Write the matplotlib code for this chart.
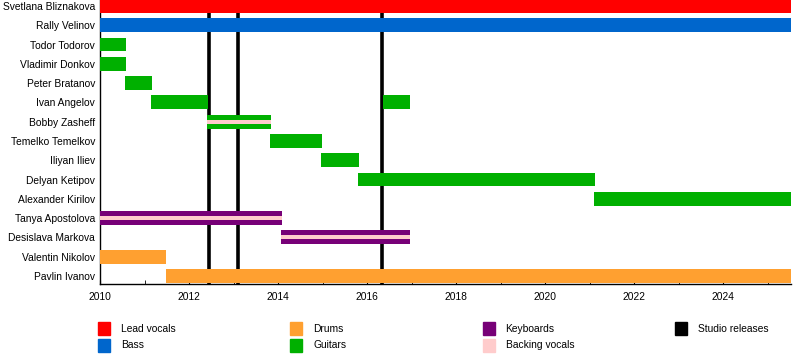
import matplotlib
matplotlib.use("Agg")
import matplotlib.pyplot as plt
from matplotlib.patches import Rectangle

plt.rcParams['font.family'] = ['Liberation Sans', 'DejaVu Sans']

end = 2025.53

members = ["Svetlana Bliznakova", "Rally Velinov", "Todor Todorov", "Vladimir Donkov",
           "Peter Bratanov", "Ivan Angelov", "Bobby Zasheff", "Temelko Temelkov",
           "Iliyan Iliev", "Delyan Ketipov", "Alexander Kirilov", "Tanya Apostolova",
           "Desislava Markova", "Valentin Nikolov", "Pavlin Ivanov"]

# (member, start, end, role, secondary role)
periods = [
    ("Svetlana Bliznakova", 2010.0, end, "Lead vocals", None),
    ("Rally Velinov", 2010.0, end, "Bass", None),
    ("Todor Todorov", 2010.0, 2010.59, "Guitars", None),
    ("Vladimir Donkov", 2010.0, 2010.59, "Guitars", None),
    ("Peter Bratanov", 2010.57, 2011.17, "Guitars", None),
    ("Ivan Angelov", 2011.15, 2012.42, "Guitars", None),
    ("Ivan Angelov", 2016.36, 2016.97, "Guitars", None),
    ("Bobby Zasheff", 2012.4, 2013.84, "Guitars", "Backing vocals"),
    ("Temelko Temelkov", 2013.82, 2014.99, "Guitars", None),
    ("Iliyan Iliev", 2014.97, 2015.82, "Guitars", None),
    ("Delyan Ketipov", 2015.8, 2021.13, "Guitars", None),
    ("Alexander Kirilov", 2021.11, end, "Guitars", None),
    ("Tanya Apostolova", 2010.0, 2014.08, "Keyboards", "Backing vocals"),
    ("Desislava Markova", 2014.06, 2016.97, "Keyboards", "Backing vocals"),
    ("Valentin Nikolov", 2010.0, 2011.49, "Drums", None),
    ("Pavlin Ivanov", 2011.48, end, "Drums", None),
]

releases = [2012.44, 2013.09, 2016.33]

colors = {
    "Lead vocals": "#ff0000",
    "Bass": "#0066cc",
    "Drums": "#ffa030",
    "Guitars": "#00b000",
    "Keyboards": "#770077",
    "Backing vocals": "#ffcccc",
    "Studio releases": "#000000",
}

legend_cols = [["Lead vocals", "Bass"], ["Drums", "Guitars"],
               ["Keyboards", "Backing vocals"], ["Studio releases"]]

fig = plt.figure(figsize=(8, 3.6), dpi=100)
ax = fig.add_axes([0.125, 0.211, 0.864, 0.789])

h = 0.72
for name, s, e, role, role2 in periods:
    y = members.index(name)
    ax.barh(y, e - s, left=s, height=h, color=colors[role], zorder=3)
    if role2:
        ax.barh(y, e - s, left=s, height=h * 0.3, color=colors[role2], zorder=4)

for r in releases:
    ax.axvline(r, color="black", lw=2.6, zorder=2)

ax.set_yticks(range(len(members)))
ax.set_yticklabels(members, fontsize=7.4)
ax.set_ylim(14.42, -0.31)
ax.set_xlim(2010, end)
ax.set_xticks(range(2010, 2026, 2))
ax.set_xticks(range(2010, 2026), minor=True)
ax.tick_params(axis="x", which="both", direction="in", length=3, labelsize=7.4, pad=6)
ax.tick_params(axis="y", length=0, pad=3.5)
for sp in ["top", "right"]:
    ax.spines[sp].set_visible(False)
ax.spines["left"].set_linewidth(1)
ax.spines["bottom"].set_linewidth(1)

# legend
W, H = 800, 360
for ci, col in enumerate(legend_cols):
    for ri, lab in enumerate(col):
        x0 = 98 + ci * 192.3
        y0 = 322 + ri * 17
        fig.add_artist(Rectangle((x0 / W, 1 - (y0 + 13) / H), 12 / W, 13 / H,
                                 transform=fig.transFigure, color=colors[lab]))
        fig.text((x0 + 23) / W, 1 - (y0 + 6.5) / H, lab, fontsize=7.4, va="center")

fig.savefig("out.png", dpi=100)
